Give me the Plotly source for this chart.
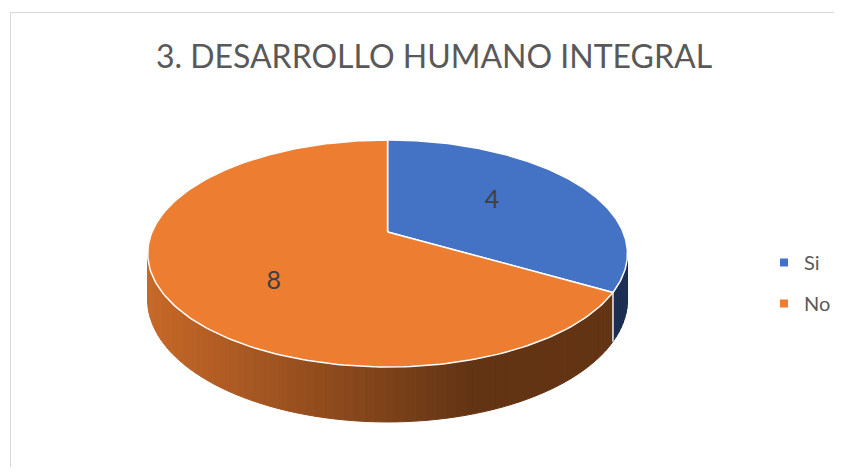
import numpy as np
import plotly.graph_objects as go

# data
labels = ["Si", "No"]
values = [4, 8]
title = "3. DESARROLLO HUMANO INTEGRAL"

top_colors = ["#4472C4", "#ED7D31"]
label_color = "#404040"
text_color = "#595959"

# the page body keeps an 8px margin on every side, so the figure
# covers reference pixels (8, 8) .. (836, 467)
W, H, OFF = 844, 475, 8
X0, X1, Y0, Y1 = OFF, W - OFF, OFF, H - OFF

# pseudo-3D geometry (pixel space of the reference, y downwards)
CX, CY = 388.5, 232.0      # hub of the pie
RX, RY = 236.1, 109.4      # radii of the projected disc
K = 0.1894                 # perspective strength
DEPTH = 55 * (1 - K)       # thickness of the pie
LABEL_SHIFT = [(-6, -1), (9, 18)]  # best-fit nudges for the data labels


def project(theta, r=1.0, drop=0.0):
    """theta in degrees, clockwise from 12 o'clock."""
    t = np.radians(theta)
    u = r * np.sin(t)
    v = -r * np.cos(t)
    s = 1.0 / (1.0 - K * v)
    return CX + RX * u * s, CY + RY * v * s + drop * s


def shade(hex_color, x):
    # side walls darken from left to right
    t = np.clip((x - 148) / (470 - 148), 0, 1)
    f = 0.84 + (0.42 - 0.84) * t
    rgb = [int(hex_color[i:i + 2], 16) for i in (1, 3, 5)]
    return "rgb({},{},{})".format(*[int(c * f) for c in rgb])


def px(x):
    return (x - X0) / (X1 - X0)


def py(y):
    return 1 - (y - Y0) / (Y1 - Y0)


total = sum(values)
bounds = np.concatenate([[0], np.cumsum(values) / total * 360])
th_right = np.degrees(np.arccos(-K))
th_left = 360 - th_right

fig = go.Figure()

# --- side walls (front half only) ---
for i, lab in enumerate(labels):
    a0 = max(bounds[i], th_right)
    a1 = min(bounds[i + 1], th_left)
    if a1 <= a0:
        continue
    n = max(2, int((a1 - a0) / 2))
    edges = np.linspace(a0, a1, n + 1)
    for j in range(n):
        seg = np.linspace(edges[j], edges[j + 1], 4)
        xt, yt = project(seg)
        xb, yb = project(seg[::-1], drop=DEPTH)
        col = shade(top_colors[i], xt.mean())
        fig.add_trace(go.Scatter(
            x=np.concatenate([xt, xb, xt[:1]]),
            y=np.concatenate([yt, yb, yt[:1]]),
            mode="lines", fill="toself", fillcolor=col,
            line=dict(color=col, width=1),
            hoverinfo="skip", showlegend=False,
        ))
    # white seam on the vertical edges where slices meet
    for a in (a0, a1):
        if a in (bounds[i], bounds[i + 1]):
            xe, ye = project(np.array([a, a]), drop=np.array([0, DEPTH]))
            fig.add_trace(go.Scatter(
                x=xe, y=ye, mode="lines",
                line=dict(color="white", width=1.2),
                hoverinfo="skip", showlegend=False,
            ))

# --- top faces ---
for i, lab in enumerate(labels):
    arc = np.linspace(bounds[i], bounds[i + 1], 200)
    xa, ya = project(arc)
    fig.add_trace(go.Scatter(
        x=np.concatenate([[CX], xa, [CX]]),
        y=np.concatenate([[CY], ya, [CY]]),
        mode="lines", fill="toself", fillcolor=top_colors[i],
        line=dict(color="white", width=1.5),
        name=lab, hoveron="fills",
        text=f"{lab}: {values[i]}", hoverinfo="text",
        showlegend=False,
    ))

# --- data labels ---
mids = (bounds[:-1] + bounds[1:]) / 2
lx, ly = project(mids, r=0.57)
shift = np.array(LABEL_SHIFT)
fig.add_trace(go.Scatter(
    x=lx + shift[:, 0], y=ly + shift[:, 1], mode="text",
    text=[str(v) for v in values],
    textfont=dict(family="Lato", size=25, color=label_color),
    hoverinfo="skip", showlegend=False,
))

# --- legend entries ---
for i, lab in enumerate(labels):
    fig.add_trace(go.Scatter(
        x=[None], y=[None], mode="markers", name=lab,
        legendgroup=lab,
        marker=dict(symbol="square", size=8, color=top_colors[i]),
    ))

fig.update_layout(
    width=X1 - X0, height=Y1 - Y0,
    margin=dict(l=0, r=0, t=0, b=0, pad=0),
    paper_bgcolor="white", plot_bgcolor="white",
    title=dict(
        text=title, x=px(434), xanchor="center", y=py(57), yanchor="middle",
        font=dict(family="Lato", size=32, color=text_color),
    ),
    legend=dict(
        x=px(766), xanchor="left", y=py(243), yanchor="top",
        font=dict(family="Lato", size=20, color=text_color),
        tracegroupgap=12, bgcolor="rgba(0,0,0,0)",
    ),
    xaxis=dict(range=[X0, X1], visible=False, fixedrange=True),
    yaxis=dict(range=[Y1, Y0], visible=False, fixedrange=True),
    shapes=[
        dict(type="line", xref="x", yref="y", x0=10.5, y0=12.5,
             x1=X1, y1=12.5, line=dict(color="#d9d9d9", width=1)),
        dict(type="line", xref="x", yref="y", x0=10.5, y0=12.5,
             x1=10.5, y1=Y1, line=dict(color="#d9d9d9", width=1)),
    ],
)

fig.write_html("out.html")
